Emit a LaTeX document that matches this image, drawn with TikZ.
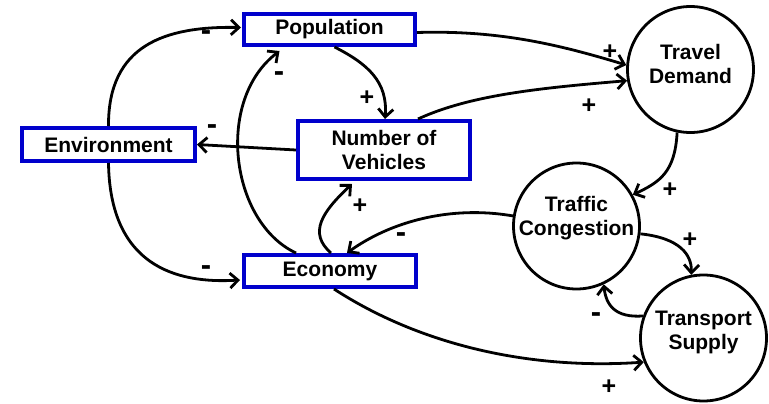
\documentclass[tikz,border=0pt]{standalone}
\usepackage{fontspec}
\setmainfont{Liberation Sans}
\usetikzlibrary{arrows.meta,calc}
\definecolor{boxblue}{RGB}{0,0,204}
\begin{document}
\begin{tikzpicture}[x=1pt,y=-1pt,
  every node/.style={font=\fontsize{21}{24}\selectfont\bfseries},
  varbox/.style={draw=boxblue,line width=4pt,inner sep=0pt,align=center},
  varcirc/.style={draw=black,circle,line width=2.8pt,minimum size=126pt,inner sep=0pt,align=center},
  link/.style={line width=2.8pt,-{Straight Barb[length=8pt,width=15pt,line width=2.8pt]}},
  sgn/.style={inner sep=0pt,font=\fontsize{25}{28}\selectfont\bfseries},
  msgn/.style={inner sep=0pt,font=\fontsize{31}{34}\selectfont\bfseries}]
\useasboundingbox (0,0) rectangle (769,404);
% variables
\node[varbox,minimum width=171pt,minimum height=31pt] (pop) at (329.5,29.5) {Population};
\node[varbox,minimum width=173pt,minimum height=33pt] (env) at (108.5,144.5) {Environment};
\node[varbox,minimum width=172pt,minimum height=58pt] (nov) at (384,150) {Number of\\Vehicles};
\node[varbox,minimum width=172pt,minimum height=32pt] (eco) at (330,271) {Economy};
\node[varcirc] (td) at (690.5,69.5) {};
\node[varcirc] (tc) at (576.5,226) {};
\node[varcirc] (ts) at (703.5,338) {};
\node[align=center] (tdt) at (690.5,63.5) {Travel\\Demand};
\node[align=center] (tct) at (576.5,218.5) {Traffic\\Congestion};
\node[align=center] (tst) at (703.5,332) {Transport\\Supply};
% links
\draw[link] (env.north) .. controls (108,45) and (165,26) .. ($(pop.west)+(-1,-2)$);
\draw[link] (env.south) .. controls (110,265) and (175,284) .. ($(eco.west)+(-2,9)$);
\draw[link] (nov.west) -- (env.east);
\draw[link] ($(pop.south)+(5,0)$) .. controls (368,64) and (388,82) .. ($(nov.north)+(1,0)$);
\draw[link] ($(eco.north)+(-34,0)$) .. controls (230,222) and (215,100) .. ($(pop.south)+(-50,4)$);
\draw[link] ($(eco.north)+(1,0)$) .. controls (308,233) and (322,212) .. ($(nov.south)+(-32,3)$);
\draw[link] (tc.171) .. controls (450,205) and (390,222) .. ($(eco.north)+(17,0)$);
\draw[link] ($(pop.east)+(0,3)$) .. controls (500,30) and (560,45) .. (td.176);
\draw[link] ($(nov.north)+(34,0)$) .. controls (470,95) and (540,88) .. (td.190);
\draw[link] (td.258) .. controls (675,172) and (660,182) .. (tc.29);
\draw[link] (tc.353) .. controls (680,238) and (692,255) .. (ts.101);
\draw[link] (ts.160) .. controls (615,318) and (606,305) .. (tc.295);
\draw[link] ($(eco.south)+(4,0)$) .. controls (420,345) and (530,370) .. (ts.202);
% signs
\node[msgn] (s1) at (206,36) {-};
\node[msgn] (s2) at (279,77) {-};
\node[sgn] (s3) at (367,98) {+};
\node[msgn] (s4) at (212,130) {-};
\node[msgn] (s5) at (206,271) {-};
\node[sgn] (s6) at (360,206) {+};
\node[msgn] (s7) at (401,238) {-};
\node[sgn] (s8) at (610,52) {+};
\node[sgn] (s9) at (589,106) {+};
\node[sgn] (s10) at (670,190) {+};
\node[sgn] (s11) at (690,240) {+};
\node[msgn] (s12) at (596,318) {-};
\node[sgn] (s13) at (609,387) {+};
\end{tikzpicture}
\end{document}
